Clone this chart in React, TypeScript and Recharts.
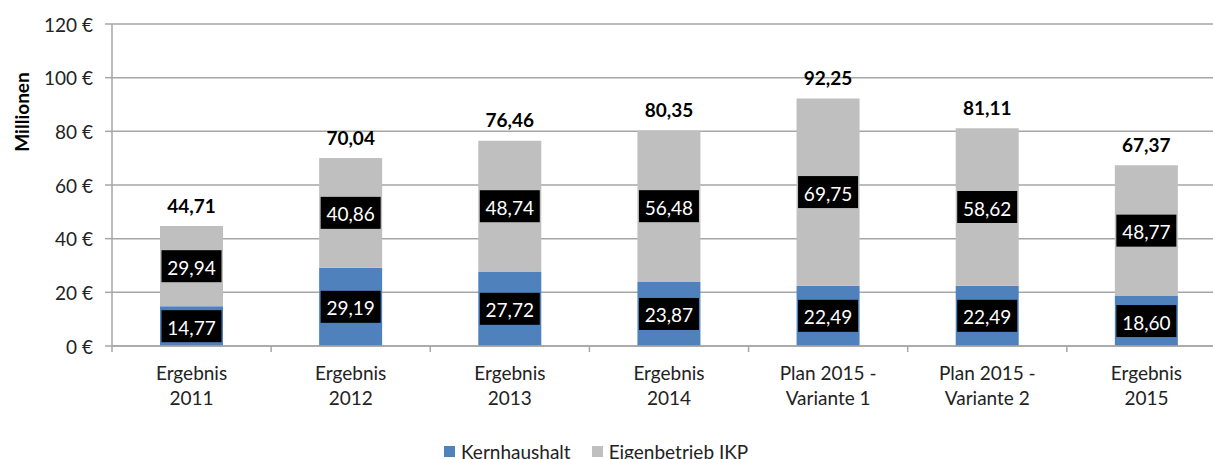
import React from "react";
import { BarChart, Bar, XAxis, YAxis, CartesianGrid, LabelList, Legend } from "recharts";

const categories = [
  "Ergebnis\n2011",
  "Ergebnis\n2012",
  "Ergebnis\n2013",
  "Ergebnis\n2014",
  "Plan 2015 -\nVariante 1",
  "Plan 2015 -\nVariante 2",
  "Ergebnis\n2015",
];
const kernhaushalt = [14.77, 29.19, 27.72, 23.87, 22.49, 22.49, 18.6];
const eigenbetrieb = [29.94, 40.86, 48.74, 56.48, 69.75, 58.62, 48.77];
const totals = [44.71, 70.04, 76.46, 80.35, 92.25, 81.11, 67.37];
const yTicks = [0, 20, 40, 60, 80, 100, 120];

const data = categories.map((c, i) => ({
  name: c,
  kern: kernhaushalt[i],
  eigen: eigenbetrieb[i],
  total: totals[i],
}));

const FONT = "Lato, 'Noto Sans', sans-serif";
const BLUE = "#4F81BD";
const GRAY = "#BFBFBF";
const AXIS = "#A6A6A6";

const fmt = (v: number) => v.toFixed(2).replace(".", ",");

const BoxLabel = (props: any) => {
  const { x, y, width, height, value } = props;
  const cx = Number(x) + Number(width) / 2;
  const cy = Number(y) + Number(height) / 2;
  return (
    <g>
      <rect x={cx - 30} y={cy - 16} width={60} height={32} fill="#000" />
      <text
        x={cx}
        y={cy + 1}
        textAnchor="middle"
        dominantBaseline="central"
        fill="#fff"
        fontFamily={FONT}
        fontSize={19}
      >
        {fmt(Number(value))}
      </text>
    </g>
  );
};

const TotalLabel = (props: any) => {
  const { x, y, width, value } = props;
  const cx = Number(x) + Number(width) / 2;
  return (
    <text
      x={cx}
      y={Number(y) - 21}
      textAnchor="middle"
      dominantBaseline="central"
      fill="#000"
      fontFamily={FONT}
      fontSize={19}
      fontWeight="bold"
    >
      {fmt(Number(value))}
    </text>
  );
};

const XTick = (props: any) => {
  const { x, y, payload, width, visibleTicksCount, index } = props;
  const lines = String(payload.value).split("\n");
  const band = Number(width) / Number(visibleTicksCount || categories.length);
  const ax = Number(y);
  const tickXs = [Number(x) - band / 2];
  if (index === (visibleTicksCount || categories.length) - 1) tickXs.push(Number(x) + band / 2);
  return (
    <g>
      {tickXs.map((tx, i) => (
        <line key={"t" + i} x1={tx} x2={tx} y1={ax} y2={ax + 6} stroke={AXIS} strokeWidth={1.5} />
      ))}
      {lines.map((l, i) => (
        <text
          key={i}
          x={x}
          y={ax + 26 + i * 25}
          textAnchor="middle"
          dominantBaseline="central"
          fill="#222"
          fontFamily={FONT}
          fontSize={19}
        >
          {l}
        </text>
      ))}
    </g>
  );
};

const YTick = (props: any) => {
  const { x, y, payload } = props;
  return (
    <text
      x={x}
      y={y}
      textAnchor="end"
      dominantBaseline="central"
      fill="#222"
      fontFamily={FONT}
      fontSize={19}
    >
      {payload.value} €
    </text>
  );
};

const LegendContent = () => (
  <div style={{ display: "flex", alignItems: "center", fontFamily: FONT, fontSize: 19, color: "#222", whiteSpace: "nowrap" }}>
    <span style={{ display: "inline-block", width: 11, height: 11, background: BLUE, marginRight: 6 }} />
    <span style={{ marginRight: 21 }}>Kernhaushalt</span>
    <span style={{ display: "inline-block", width: 11, height: 11, background: GRAY, marginRight: 6 }} />
    <span>Eigenbetrieb IKP</span>
  </div>
);

export default function App() {
  return (
    <div style={{ position: "absolute", left: 0, top: 0, width: 1213, height: 459, overflow: "hidden", background: "#fff" }}>
      <BarChart
        width={1226}
        height={459}
        data={data}
        margin={{ top: 24, right: 0, left: 0, bottom: 0 }}
      >
        <CartesianGrid vertical={false} stroke={AXIS} strokeWidth={1.5} />
        <XAxis
          dataKey="name"
          height={113}
          stroke={AXIS}
          strokeWidth={1.5}
          interval={0}
          tick={<XTick />}
          tickLine={false}
          tickSize={0}
          tickMargin={0}
        />
        <YAxis
          width={112}
          domain={[0, 120]}
          ticks={yTicks}
          stroke={AXIS}
          strokeWidth={1.5}
          tickSize={7}
          tickMargin={12}
          tick={<YTick />}
          label={{
            value: "Millionen",
            content: () => (
              <text
                x={21}
                y={112}
                transform="rotate(-90 21 112)"
                textAnchor="middle"
                dominantBaseline="central"
                fontFamily={FONT}
                fontSize={19}
                fontWeight="bold"
                fill="#000"
              >
                Millionen
              </text>
            ),
          }}
        />
        <Legend
          layout="horizontal"
          verticalAlign="middle"
          align="center"
          wrapperStyle={{ position: "absolute", top: 440, left: 444, width: 360 }}
          content={<LegendContent />}
        />
        <Bar dataKey="kern" name="Kernhaushalt" stackId="a" fill={BLUE} barSize={63} isAnimationActive={false}>
          <LabelList dataKey="kern" content={<BoxLabel />} />
        </Bar>
        <Bar dataKey="eigen" name="Eigenbetrieb IKP" stackId="a" fill={GRAY} barSize={63} isAnimationActive={false}>
          <LabelList dataKey="eigen" content={<BoxLabel />} />
          <LabelList dataKey="total" content={<TotalLabel />} />
        </Bar>
      </BarChart>
    </div>
  );
}
